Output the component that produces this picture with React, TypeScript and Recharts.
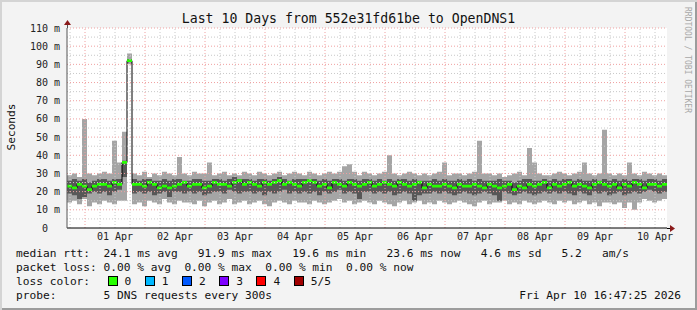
import React from 'react'
import {
  Area,
  ComposedChart,
  ReferenceArea,
  ReferenceLine,
  XAxis,
  YAxis,
} from 'recharts'

// 120 bins of 2 hours, starting Mar 31 16:47
const BIN_HOURS = 2
const MIDNIGHT_OFFSET = 7.2

const MEDIAN = [
  23, 22, 24, 23, 21, 23, 24, 24, 23, 25, 24, 36,
  92,
  24, 24, 23, 25, 24, 22, 23, 22, 23, 24, 25,
  23, 24, 24, 22, 23, 25, 24, 24, 23, 25, 26, 24,
  25, 24, 23, 25, 24, 25, 26, 24, 25, 24, 23, 25,
  26, 25, 23, 24, 22, 25, 24, 23, 25, 24, 23, 24,
  25, 23, 24, 25, 24, 23, 25, 24, 23, 24, 25, 22,
  24, 23, 23, 24, 23, 22, 24, 23, 23, 24, 23, 22,
  24, 23, 22, 23, 24, 21, 23, 22, 24, 23, 24, 25,
  22, 24, 23, 24, 25, 23, 24, 23, 22, 24, 25, 24,
  23, 24, 22, 24, 23, 25, 24, 22, 24, 24, 23, 24,
]

const MAX = [
  29, 30, 28, 60, 30, 29, 30, 31, 30, 48, 36, 53,
  96,
  30, 29, 31, 28, 30, 29, 31, 30, 29, 39, 30,
  29, 31, 30, 30, 36, 29, 30, 31, 29, 30, 29, 31,
  30, 29, 31, 30, 29, 30, 31, 29, 30, 31, 30, 29,
  31, 30, 29, 30, 31, 30, 31, 34, 35, 31, 29, 31,
  30, 29, 30, 31, 40, 30, 29, 30, 31, 30, 29, 30,
  29, 30, 31, 36, 29, 30, 30, 29, 30, 31, 48, 30,
  30, 29, 30, 28, 29, 30, 31, 29, 44, 36, 30, 29,
  29, 30, 31, 30, 29, 30, 31, 36, 30, 29, 30, 54,
  30, 29, 30, 29, 36, 30, 29, 31, 30, 29, 30, 29,
]

const MIN = [
  14, 15, 13, 16, 12, 14, 13, 15, 14, 13, 15, 15,
  90,
  13, 14, 12, 15, 14, 13, 16, 14, 13, 15, 14,
  14, 13, 15, 12, 14, 15, 13, 14, 16, 13, 14, 15,
  13, 14, 15, 13, 12, 14, 15, 14, 13, 15, 14, 14,
  13, 15, 14, 13, 14, 15, 16, 14, 15, 13, 14, 15,
  14, 13, 15, 14, 13, 12, 14, 15, 13, 14, 15, 13,
  14, 13, 15, 14, 13, 14, 15, 14, 13, 12, 14, 15,
  13, 14, 14, 15, 13, 14, 13, 15, 14, 13, 14, 15,
  14, 13, 15, 14, 15, 13, 14, 15, 13, 14, 12, 14,
  14, 13, 14, 11, 14, 10, 14, 16, 15, 14, 15, 16,
]

const LOW_MID = [
  19, 18, 16, 17, 19, 20, 19, 20, 18, 20, 21, 28,
  91,
  19, 20, 19, 20, 18, 19, 20, 17, 20, 20, 19,
  20, 19, 20, 18, 19, 20, 20, 19, 21, 20, 19, 20,
  20, 19, 20, 18, 20, 19, 20, 21, 19, 20, 19, 20,
  19, 20, 18, 20, 19, 20, 21, 19, 20, 19, 16, 20,
  20, 19, 20, 19, 20, 18, 19, 20, 19, 15, 18, 19,
  19, 20, 19, 20, 19, 18, 19, 20, 19, 18, 19, 20,
  19, 18, 15, 20, 19, 18, 19, 20, 19, 18, 19, 20,
  19, 20, 19, 20, 19, 18, 20, 19, 18, 20, 19, 20,
  18, 19, 20, 18, 19, 20, 19, 20, 21, 20, 19, 20,
]

const HIGH_MID = [
  26, 27, 26, 27, 25, 26, 27, 27, 26, 27, 27, 37,
  93,
  27, 26, 27, 27, 26, 26, 27, 26, 27, 27, 26,
  26, 27, 27, 26, 26, 27, 27, 26, 27, 28, 27, 27,
  27, 26, 27, 27, 26, 27, 28, 27, 26, 27, 27, 27,
  27, 27, 26, 27, 26, 27, 27, 26, 27, 27, 26, 27,
  27, 26, 27, 26, 27, 26, 27, 27, 26, 27, 26, 26,
  26, 27, 26, 27, 26, 26, 27, 26, 27, 26, 27, 26,
  26, 26, 27, 26, 26, 25, 26, 27, 27, 26, 26, 27,
  26, 27, 26, 27, 27, 26, 27, 26, 26, 27, 26, 27,
  26, 27, 26, 27, 26, 27, 27, 26, 27, 27, 26, 27,
]

const DAY_LABELS = ['01 Apr', '02 Apr', '03 Apr', '04 Apr', '05 Apr', '06 Apr', '07 Apr', '08 Apr', '09 Apr', '10 Apr']
const Y_TICKS = [0, 10, 20, 30, 40, 50, 60, 70, 80, 90, 100, 110]

const LOSS_COLORS = [
  { label: '0', color: '#26ff00' },
  { label: '1', color: '#00b8ff' },
  { label: '2', color: '#0059ff' },
  { label: '3', color: '#7e00ff' },
  { label: '4', color: '#ff0000' },
  { label: '5/5', color: '#a10000' },
]

const MONO = '"DejaVu Sans Mono", monospace'

const rows = MEDIAN.map((med, i) => ({
  t: i * BIN_HOURS,
  med,
  hi: MAX[i],
  lo: MIN[i],
  q1: LOW_MID[i],
  q3: HIGH_MID[i],
}))
rows.push({ ...rows[rows.length - 1], t: rows.length * BIN_HOURS })

const labelHours = DAY_LABELS.map((_, i) => MIDNIGHT_OFFSET + 12 + i * 24)
const midnights = DAY_LABELS.map((_, i) => MIDNIGHT_OFFSET + i * 24)
const quarterDays: number[] = []
for (let h = MIDNIGHT_OFFSET - 6; h < 240; h += 6) {
  if (!midnights.some((m) => Math.abs(m - h) < 0.01)) quarterDays.push(h)
}
const minorY = Y_TICKS.slice(0, -1).map((v) => v + 5)
const majorY = Y_TICKS.slice(1)

function YTick({ x, y, payload }: any) {
  const v = payload.value
  return (
    <text
      x={v === 0 ? x - 12 : x}
      y={y}
      dy={3.5}
      textAnchor="end"
      fontFamily={MONO}
      fontSize={10}
      fill="#222"
    >
      {v === 0 ? '0' : `${v} m`}
    </text>
  )
}

const legendLine: React.CSSProperties = {
  position: 'absolute',
  left: 16,
  fontFamily: MONO,
  fontSize: 11.2,
  lineHeight: '14px',
  whiteSpace: 'pre',
  color: '#111',
}

export default function App() {
  return (
    <div
      style={{
        position: 'absolute',
        left: 0,
        top: 0,
        width: 697,
        height: 310,
        background: '#f3f3f3',
        boxShadow: 'inset 2px 2px 0 #d4d4d4, inset -2px -2px 0 #9c9c9c',
        overflow: 'hidden',
      }}
    >
      <div
        style={{
          position: 'absolute',
          left: 0,
          width: 697,
          top: 11,
          textAlign: 'center',
          fontFamily: MONO,
          fontSize: 13.2,
          color: '#111',
          whiteSpace: 'pre',
        }}
      >
        Last 10 Days from 552e31fd61be to OpenDNS1
      </div>
      <div
        style={{
          position: 'absolute',
          left: 11,
          top: 127,
          transform: 'translate(-50%, -50%) rotate(-90deg)',
          fontFamily: MONO,
          fontSize: 11.2,
          color: '#111',
          whiteSpace: 'pre',
        }}
      >
        Seconds
      </div>
      <div
        style={{
          position: 'absolute',
          left: 687,
          top: 60,
          transform: 'translate(-50%, -50%) rotate(90deg)',
          fontFamily: MONO,
          fontSize: 8,
          color: '#a8a8a8',
          whiteSpace: 'pre',
        }}
      >
        RRDTOOL / TOBI OETIKER
      </div>

      <ComposedChart
        width={697}
        height={310}
        data={rows}
        margin={{ top: 28, right: 30, bottom: 62, left: 7 }}
        style={{ position: 'absolute', left: 0, top: 0 }}
      >
        <ReferenceArea x1={0} x2={240} y1={0} y2={110} fill="#ffffff" fillOpacity={1} stroke="none" />
        <XAxis
          dataKey="t"
          type="number"
          domain={[0, 240]}
          ticks={labelHours}
          interval={0}
          tickFormatter={(_v, i) => DAY_LABELS[i]}
          height={20}
          tickSize={0}
          tickMargin={5}
          tick={{ fontFamily: MONO, fontSize: 10, fill: '#222' }}
          axisLine={{ stroke: '#000' }}
          allowDataOverflow
        />
        <YAxis
          type="number"
          domain={[0, 110]}
          ticks={Y_TICKS}
          interval={0}
          width={60}
          tickSize={0}
          tickMargin={7}
          tick={<YTick />}
          axisLine={{ stroke: '#555' }}
          allowDataOverflow
        />
        <Area
          dataKey={(d: any) => [d.lo, d.hi]}
          type="stepAfter"
          fill="#a5a5a5"
          fillOpacity={1}
          stroke="none"
          isAnimationActive={false}
        />
        <Area
          dataKey={(d: any) => [d.q1, d.q3]}
          type="stepAfter"
          fill="#575757"
          fillOpacity={1}
          stroke="none"
          isAnimationActive={false}
        />
        {quarterDays.map((h) => (
          <ReferenceLine key={`qx${h}`} x={h} stroke="#c8c8c8" strokeDasharray="1 2" />
        ))}
        {minorY.map((v) => (
          <ReferenceLine key={`my${v}`} y={v} stroke="#c8c8c8" strokeDasharray="1 2" />
        ))}
        {midnights.map((h) => (
          <ReferenceLine key={`mx${h}`} x={h} stroke="#f0a0a0" strokeDasharray="1 2" />
        ))}
        {majorY.map((v) => (
          <ReferenceLine key={`My${v}`} y={v} stroke="#f0a0a0" strokeDasharray="1 2" />
        ))}
        <Area
          dataKey="med"
          type="stepAfter"
          fill="none"
          stroke="#000"
          strokeWidth={1}
          dot={false}
          activeDot={false}
          isAnimationActive={false}
        />
        <Area
          dataKey={(d: any) => [d.med - 0.7, d.med + 0.8]}
          type="stepAfter"
          fill="#26ff00"
          fillOpacity={1}
          stroke="none"
          isAnimationActive={false}
        />
      </ComposedChart>

      <svg width={697} height={310} style={{ position: 'absolute', left: 0, top: 0, pointerEvents: 'none' }}>
        <line x1={67.5} y1={24} x2={67.5} y2={28} stroke="#555" />
        <polygon points="64,25 71,25 67.5,20" fill="#8b1a1a" />
        <line x1={667} y1={228.5} x2={670} y2={228.5} stroke="#000" />
        <polygon points="670,225 670,232 675,228.5" fill="#8b1a1a" />
      </svg>

      <div style={{ ...legendLine, top: 247 }}>
        {'median rtt:  24.1 ms avg   91.9 ms max   19.6 ms min   23.6 ms now   4.6 ms sd   5.2   am/s'}
      </div>
      <div style={{ ...legendLine, top: 261 }}>
        {'packet loss: 0.00 % avg  0.00 % max  0.00 % min  0.00 % now'}
      </div>
      <div style={{ ...legendLine, top: 275 }}>
        {'loss color:  '}
        {LOSS_COLORS.map((c, i) => (
          <span key={c.label}>
            <span
              style={{
                display: 'inline-block',
                width: 8,
                height: 8,
                background: c.color,
                border: '1px solid #000',
                verticalAlign: '-1px',
                marginLeft: i === 0 ? 4 : 0,
                marginRight: 7,
              }}
            />
            {c.label + '  '}
          </span>
        ))}
      </div>
      <div style={{ ...legendLine, top: 289 }}>{'probe:       5 DNS requests every 300s'}</div>
      <div style={{ ...legendLine, left: 'auto', right: 16, top: 289 }}>Fri Apr 10 16:47:25 2026</div>
    </div>
  )
}
